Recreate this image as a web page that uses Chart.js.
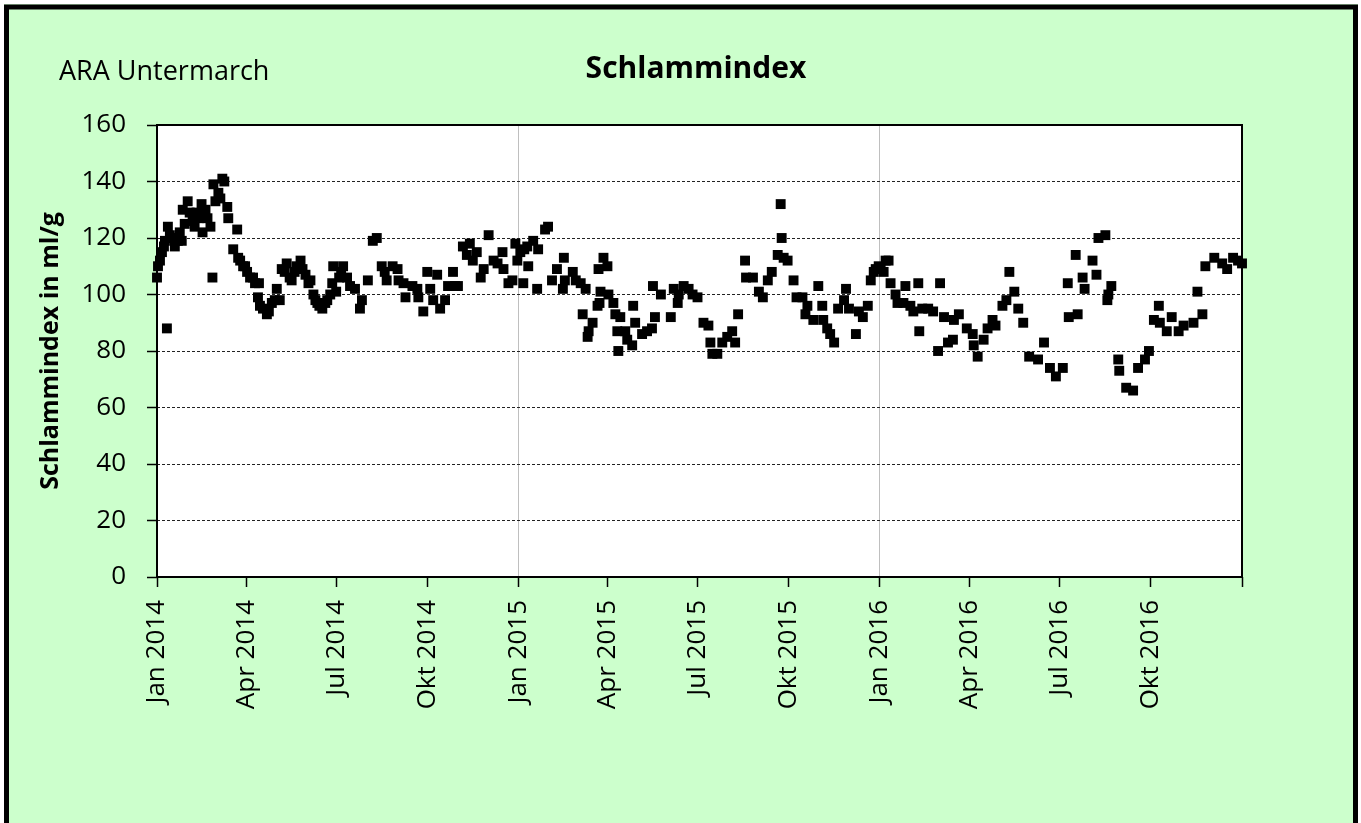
<!DOCTYPE html>
<html>
<head>
<meta charset="utf-8">
<script src="https://cdn.jsdelivr.net/npm/chart.js@4.4.1/dist/chart.umd.min.js"></script>
<style>
  html, body { margin: 0; background: #fff; }
  canvas { display: block; }
</style>
</head>
<body>
<canvas id="sviChart" width="1361" height="823"></canvas>
<script>
'use strict';

// Messdaten: Tag seit 1.1.2014 und Schlammindex (ml/g)
const dayNo = [
  0, 1, 3, 5, 7, 8, 10, 11, 13, 15, 18, 21, 23, 25, 26, 28, 31, 33, 36, 38,
  40, 42, 45, 46, 49, 51, 54, 56, 57, 59, 62, 64, 66, 68, 71, 72, 77, 81, 82, 84,
  87, 89, 91, 94, 97, 99, 102, 103, 104, 107, 111, 113, 116, 119, 121, 124, 126, 129, 131, 134,
  136, 139, 141, 145, 147, 150, 153, 155, 158, 160, 162, 164, 167, 170, 172, 175, 177, 178, 181, 184,
  186, 188, 192, 195, 200, 205, 207, 213, 218, 222, 227, 230, 232, 238, 243, 244, 249, 251, 258, 263,
  264, 269, 273, 276, 279, 283, 286, 291, 294, 299, 301, 304, 309, 313, 316, 319, 323, 327, 330, 335,
  340, 344, 349, 350, 355, 359, 362, 364, 367, 370, 371, 374, 375, 380, 384, 385, 392, 395, 399, 404,
  410, 411, 412, 420, 423, 428, 430, 433, 435, 436, 440, 445, 446, 447, 448, 451, 455, 456, 461, 463,
  465, 466, 468, 473, 475, 480, 481, 483, 490, 495, 500, 501, 503, 509, 519, 522, 526, 527, 532, 537,
  541, 546, 552, 557, 559, 561, 566, 571, 576, 581, 584, 587, 594, 595, 602, 608, 612, 617, 621, 627,
  630, 631, 633, 637, 643, 646, 652, 655, 657, 663, 668, 672, 673, 677, 680, 684, 688, 694, 696, 699,
  706, 709, 713, 718, 721, 724, 726, 729, 731, 734, 736, 739, 741, 746, 748, 754, 756, 761, 764, 769,
  770, 773, 779, 784, 789, 791, 795, 799, 804, 805, 810, 818, 824, 825, 829, 835, 839, 844, 847, 854,
  858, 861, 866, 870, 875, 881, 890, 896, 902, 908, 915, 920, 921, 928, 930, 935, 937, 945, 949, 951,
  958, 960, 961, 964, 971, 972, 979, 986, 991, 998, 1002, 1007, 1012, 1013, 1020, 1025, 1032, 1037, 1047, 1051,
  1056, 1059, 1068, 1076, 1081, 1087, 1092, 1096
];
const svi = [
  106, 110, 112, 115, 117, 119, 88, 124, 121, 120, 117, 119, 122, 119, 130, 125, 133, 129, 126, 124,
  129, 127, 132, 122, 130, 127, 124, 106, 139, 133, 136, 134, 141, 140, 131, 127, 116, 123, 113, 112,
  110, 110, 108, 106, 106, 104, 99, 104, 96, 95, 93, 94, 97, 98, 102, 98, 109, 108, 111, 106,
  105, 108, 110, 112, 109, 107, 104, 105, 100, 98, 97, 96, 95, 97, 98, 100, 104, 110, 101, 106,
  108, 110, 106, 103, 102, 95, 98, 105, 119, 120, 110, 108, 105, 110, 109, 105, 104, 99, 103, 102,
  99, 94, 108, 102, 98, 107, 95, 98, 103, 108, 103, 103, 117, 114, 118, 112, 115, 106, 109, 121,
  112, 111, 115, 109, 104, 105, 118, 112, 115, 104, 116, 117, 110, 119, 102, 116, 123, 124, 105, 109,
  102, 113, 105, 108, 105, 104, 93, 102, 85, 87, 90, 96, 109, 97, 101, 113, 110, 100, 97, 93,
  87, 80, 92, 87, 84, 82, 96, 90, 86, 87, 88, 103, 92, 100, 92, 102, 97, 100, 103, 102,
  100, 99, 90, 89, 83, 79, 79, 83, 85, 87, 83, 93, 112, 106, 106, 101, 99, 105, 108, 114,
  132, 120, 113, 112, 105, 99, 99, 93, 96, 91, 103, 96, 91, 88, 86, 83, 95, 98, 102, 95,
  86, 94, 92, 96, 105, 108, 109, 110, 109, 108, 112, 112, 104, 100, 97, 97, 103, 96, 94, 104,
  87, 95, 95, 94, 80, 104, 92, 83, 84, 91, 93, 88, 86, 82, 78, 84, 88, 91, 89, 96,
  98, 108, 101, 95, 90, 78, 77, 83, 74, 71, 74, 104, 92, 114, 93, 106, 102, 112, 107, 120,
  121, 98, 100, 103, 77, 73, 67, 66, 74, 77, 80, 91, 96, 90, 87, 92, 87, 89, 90, 101,
  93, 110, 113, 111, 109, 113, 112, 111
];

// Achsenbeschriftung: Quartalsanfänge als Tag seit 1.1.2014
const tickDays   = [0, 90, 181, 273, 365, 455, 546, 638, 730, 821, 912, 1004, 1096];
const tickLabels = ['Jan 2014', 'Apr 2014', 'Jul 2014', 'Okt 2014', 'Jan 2015', 'Apr 2015',
                    'Jul 2015', 'Okt 2015', 'Jan 2016', 'Apr 2016', 'Jul 2016', 'Okt 2016', ''];
const yearLines  = [365, 730];

const FONT = "'Open Sans', 'Noto Sans', sans-serif";

// ── Hintergrund, Rahmen, Texte ───────────────────────────
const framePlugin = {
    id: 'frame',
    beforeDraw(chart) {
        const { ctx, chartArea: a } = chart;
        ctx.save();
        ctx.fillStyle = '#fff';
        ctx.fillRect(0, 0, chart.width, chart.height);
        ctx.fillStyle = '#ccffcc';
        ctx.fillRect(4, 4, 1354, 840);
        ctx.fillStyle = '#fff';
        ctx.fillRect(a.left, a.top, a.right - a.left, a.bottom - a.top);
        ctx.strokeStyle = '#000';
        ctx.lineWidth = 5;
        ctx.strokeRect(6.5, 7, 1349, 850);

        ctx.fillStyle = '#000';
        ctx.textBaseline = 'alphabetic';
        ctx.font = '27px ' + FONT;
        ctx.textAlign = 'left';
        ctx.fillText('ARA Untermarch', 59, 80);
        ctx.font = 'bold 30px ' + FONT;
        ctx.textAlign = 'center';
        ctx.fillText('Schlammindex', 696, 78);
        ctx.restore();
    },
    beforeDatasetsDraw(chart) {
        const { ctx, chartArea: a } = chart;
        ctx.save();
        ctx.strokeStyle = '#000';
        ctx.lineWidth = 2;
        ctx.strokeRect(a.left, a.top, a.right - a.left, a.bottom - a.top);
        ctx.restore();
    }
};

const points = dayNo.map((d, i) => ({ x: d, y: svi[i] }));

new Chart(document.getElementById('sviChart'), {
    type: 'scatter',
    data: {
        datasets: [{
            label: 'Schlammindex',
            data: points,
            pointStyle: 'rect',
            pointRadius: 7,
            pointHoverRadius: 7,
            backgroundColor: '#000',
            borderColor: '#000',
            borderWidth: 0,
            clip: false
        }]
    },
    options: {
        responsive: false,
        animation: false,
        layout: { padding: { left: 0, top: 125, right: 119, bottom: 0 } },
        plugins: {
            legend: { display: false },
            tooltip: { enabled: false }
        },
        scales: {
            x: {
                type: 'linear',
                min: 0, max: 1096,
                afterBuildTicks: s => { s.ticks = tickDays.map(v => ({ value: v })); },
                afterFit: s => { s.height = 246; },
                ticks: {
                    autoSkip: false,
                    minRotation: 90, maxRotation: 90,
                    padding: 13,
                    color: '#000',
                    font: { family: FONT, size: 26 },
                    callback: (v, i) => tickLabels[i]
                },
                grid: {
                    color: c => (c.tick && yearLines.includes(c.tick.value)) ? '#bfbfbf' : 'rgba(0,0,0,0)',
                    lineWidth: 1,
                    tickColor: '#000',
                    tickLength: 10,
                    tickWidth: 1.5
                },
                border: { display: false }
            },
            y: {
                min: 0, max: 160,
                afterFit: s => { s.width = 157; },
                ticks: {
                    stepSize: 20,
                    padding: 21,
                    color: '#000',
                    font: { family: FONT, size: 26 }
                },
                grid: {
                    color: c => (c.tick && c.tick.value > 0 && c.tick.value < 160) ? '#222' : 'rgba(0,0,0,0)',
                    lineWidth: 1,
                    tickColor: '#000',
                    tickLength: 10,
                    tickWidth: 1.5,
                    tickBorderDash: []
                },
                border: { display: false, dash: [3, 2] },
                title: {
                    display: true,
                    text: 'Schlammindex in ml/g',
                    color: '#000',
                    font: { family: FONT, size: 25, weight: 'bold' },
                    padding: { top: 36, bottom: 0 }
                }
            }
        }
    },
    plugins: [framePlugin]
});
</script>
</body>
</html>
